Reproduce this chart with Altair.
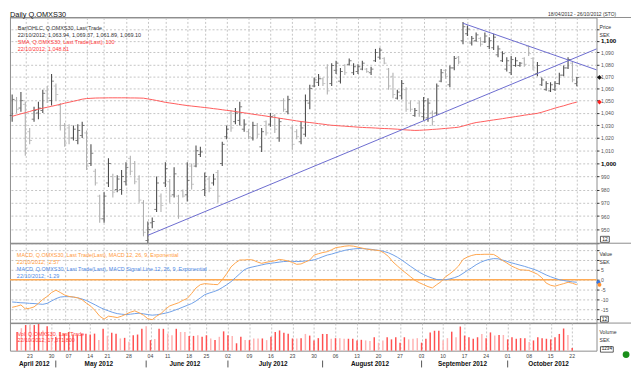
import altair as alt
import pandas as pd

# ---------------- data ----------------
HOLIDAYS = ["2012-05-01", "2012-05-17", "2012-06-06", "2012-06-22"]
RANGE_START, RANGE_END = "2012-04-18", "2012-10-26"

OPEN = [1038, 1050, 1044, 1047, 1025, 1035, 1040, 1042, 1058, 1050, 1062, 1046, 1030, 1028, 1020, 1018, 1022, 1024, 1000, 994, 975, 958, 985, 990, 980, 980, 986, 1004, 1000, 988, 970, 942, 955,
        965, 975, 985, 986, 976, 975, 979, 976, 998, 998, 1007, 980, 988, 985, 993, 1000, 1021, 1040, 1033, 1034, 1027, 1025, 1020, 1030, 1013, 1033, 1031, 1038, 1020, 1050, 1041, 1028, 1025,
        1017, 1023, 1048, 1062, 1065, 1068, 1077, 1064, 1075, 1066, 1079, 1080, 1073, 1074, 1076, 1076, 1073, 1083, 1086, 1085, 1076, 1070, 1052, 1054, 1059, 1048, 1038, 1048, 1037, 1036, 1040, 1040, 1066,
        1075, 1063, 1077, 1086, 1100, 1106, 1098, 1100, 1102, 1099, 1095, 1094, 1088, 1083, 1076, 1073, 1079, 1079, 1085, 1095, 1085, 1072, 1063, 1059, 1058, 1059, 1064, 1071, 1077, 1081, 1063.94]
HIGH = [1055, 1053, 1057, 1049, 1028, 1045, 1049, 1059, 1062, 1072, 1064, 1048, 1032, 1031, 1030, 1031, 1033, 1026, 1015, 996, 976, 978, 1004, 992, 991, 995, 1001, 1006, 1002, 991, 972, 956, 959,
        990, 977, 1001, 988, 997, 976, 980, 1001, 1000, 1014, 1013, 993, 990, 992, 995, 1017, 1030, 1042, 1044, 1049, 1035, 1027, 1033, 1032, 1028, 1034, 1040, 1039, 1036, 1052, 1054, 1030, 1027,
        1033, 1055, 1063, 1069, 1072, 1069, 1080, 1081, 1083, 1077, 1080, 1085, 1081, 1080, 1083, 1077, 1078, 1093, 1094, 1086, 1077, 1073, 1059, 1067, 1061, 1050, 1044, 1050, 1053, 1052, 1042, 1064, 1076,
        1076, 1079, 1087, 1087, 1116, 1113, 1104, 1107, 1103, 1107, 1103, 1106, 1096, 1091, 1086, 1087, 1086, 1082, 1086, 1096, 1086, 1082, 1069, 1066, 1065, 1066, 1073, 1079, 1086, 1082, 1069.37]
LOW = [1033, 1040, 1041, 1006, 1015, 1033, 1035, 1040, 1048, 1046, 1050, 1026, 1013, 1015, 1018, 1015, 1020, 995, 998, 983, 955, 955, 982, 974, 978, 976, 983, 991, 984, 970, 945, 940, 951,
       963, 963, 982, 970, 974, 958, 974, 971, 980, 997, 1005, 975, 978, 983, 970, 998, 1019, 1025, 1031, 1030, 1025, 1019, 1018, 1020, 1009, 1022, 1029, 1024, 1017, 1041, 1039, 1011, 1019,
       1015, 1021, 1043, 1061, 1062, 1062, 1055, 1062, 1072, 1064, 1071, 1079, 1071, 1072, 1075, 1073, 1071, 1082, 1084, 1080, 1059, 1052, 1051, 1051, 1041, 1041, 1037, 1037, 1034, 1033, 1030, 1038, 1065,
       1068, 1061, 1075, 1080, 1097, 1104, 1096, 1099, 1095, 1098, 1093, 1092, 1086, 1082, 1074, 1071, 1078, 1078, 1078, 1087, 1075, 1070, 1062, 1058, 1057, 1058, 1063, 1070, 1076, 1065, 1061.89]
CLOSE = [1051, 1043, 1050, 1012, 1018, 1042, 1044, 1056, 1052, 1066, 1055, 1030, 1016, 1020, 1027, 1026, 1030, 998, 1008, 985, 958, 975, 1000, 978, 988, 990, 997, 994, 986, 972, 948, 950, 956,
         985, 968, 996, 975, 992, 960, 975, 987, 984, 1010, 1009, 990, 981, 988, 975, 1015, 1027, 1028, 1040, 1045, 1031, 1021, 1030, 1023, 1025, 1024, 1037, 1027, 1033, 1043, 1051, 1015, 1021,
         1028, 1050, 1060, 1067, 1068, 1064, 1058, 1079, 1081, 1074, 1073, 1083, 1078, 1078, 1081, 1074, 1076, 1090, 1092, 1081, 1062, 1055, 1057, 1064, 1043, 1043, 1042, 1040, 1050, 1048, 1033, 1062, 1073,
         1070, 1077, 1085, 1082, 1112, 1110, 1102, 1105, 1097, 1104, 1100, 1103, 1093, 1089, 1083, 1084, 1083, 1081, 1080, 1089, 1077, 1079, 1067, 1064, 1063, 1064, 1071, 1077, 1084, 1067, 1069.10]
SMA100 = [1037.3, 1038.3, 1039.3, 1040.2, 1041.2, 1042.3, 1043.1, 1043.9, 1044.6, 1045.4,
          1046.2, 1047.0, 1047.9, 1048.7, 1049.5, 1050.3, 1051.2, 1051.7, 1051.9, 1052.1,
          1052.2, 1052.2, 1052.3, 1052.3, 1052.3, 1052.3, 1052.3, 1052.2, 1052.2, 1052.1,
          1052.0, 1051.4, 1050.8, 1050.1, 1049.4, 1048.6, 1048.1, 1047.6, 1047.0, 1046.5,
          1046.0, 1045.6, 1045.2, 1044.8, 1044.4, 1044.0, 1043.5, 1043.1, 1042.6, 1042.1,
          1041.7, 1041.2, 1040.6, 1040.1, 1039.6, 1039.0, 1038.5, 1038.0, 1037.5, 1036.9,
          1036.4, 1035.8, 1035.3, 1034.7, 1034.2, 1033.6, 1033.1, 1032.7, 1032.3, 1031.9,
          1031.4, 1031.0, 1030.5, 1030.1, 1029.9, 1029.6, 1029.4, 1029.1, 1028.9, 1028.6,
          1028.4, 1028.2, 1028.1, 1027.9, 1027.7, 1027.5, 1027.4, 1027.2, 1027.0, 1026.7,
          1026.4, 1026.2, 1026.0, 1026.1, 1026.3, 1026.5, 1026.8, 1027.0, 1027.3, 1027.6,
          1027.9, 1028.2, 1028.6, 1029.5, 1030.5, 1031.5, 1032.3, 1032.8, 1033.3, 1033.9,
          1034.4, 1034.9, 1035.4, 1036.0, 1036.5, 1037.1, 1037.6, 1038.2, 1038.7, 1039.2,
          1039.7, 1040.6, 1041.7, 1042.8, 1043.9, 1044.9, 1045.8, 1046.9, 1047.9, 1048.81]
MACD = [-14.0, -13.5, -12.8, -14.8, -14.5, -13.8, -12.0, -10.0, -8.5, -6.5,
        -5.3, -6.5, -7.8, -8.5, -8.8, -9.2, -10.2, -12.0, -13.5, -15.8,
        -18.5, -20.0, -18.5, -18.8, -19.2, -18.5, -17.5, -16.5, -15.8, -16.8,
        -18.0, -19.8, -20.3, -18.5, -17.2, -15.0, -13.3, -12.5, -11.7, -10.5,
        -9.5, -7.0, -4.2, -2.5, -2.0, -2.2, -2.4, -2.5, 0.0, 3.0,
        6.5, 8.5, 10.0, 10.0, 10.2, 10.0, 9.0, 8.3, 8.8, 9.2,
        9.6, 10.3, 10.0, 9.5, 8.8, 7.8, 8.0, 9.0, 10.0, 12.5,
        13.2, 13.8, 14.2, 15.2, 16.3, 16.6, 17.0, 17.2, 17.0, 16.5,
        16.0, 15.5, 15.2, 15.0, 14.7, 13.5, 11.7, 9.0, 7.0, 5.0,
        3.3, 1.5, -0.3, -1.5, -2.5, -3.5, -4.2, -2.5, -1.0, 1.5,
        3.0, 4.8, 7.0, 10.3, 11.5, 12.3, 12.8, 12.8, 12.9, 12.9,
        12.8, 11.5, 9.8, 8.5, 7.0, 6.0, 5.0, 4.9, 4.7, 3.8,
        2.8, 1.0, -1.7, -2.8, -3.3, -2.6, -2.0, -1.3, -1.8, -2.57]
SIGNAL = [-11.3, -11.5, -11.7, -11.8, -12.0, -12.1, -12.3, -12.5, -12.0, -10.8,
          -9.6, -8.8, -8.6, -8.6, -8.8, -9.2, -9.8, -10.6, -11.7, -12.8,
          -14.0, -15.0, -15.8, -16.6, -17.2, -17.5, -17.7, -17.5, -17.2, -17.0,
          -17.3, -17.7, -18.0, -17.8, -17.4, -17.0, -16.4, -15.6, -14.8, -13.9,
          -13.0, -12.1, -10.8, -9.2, -7.6, -6.8, -6.1, -5.3, -4.0, -2.6,
          -1.0, 1.0, 3.0, 5.0, 6.0, 6.5, 7.0, 7.5, 8.0, 8.3,
          8.6, 8.9, 9.2, 9.3, 9.3, 9.2, 9.3, 9.5, 9.7, 10.1,
          10.8, 11.7, 12.5, 13.0, 13.7, 14.3, 14.9, 15.3, 15.6, 15.8,
          15.8, 15.6, 15.4, 15.1, 14.8, 14.3, 13.6, 12.6, 11.4, 10.0,
          8.4, 6.8, 5.3, 3.8, 2.6, 1.6, 0.8, 0.1, 0.0, 0.0,
          0.4, 1.0, 1.8, 3.2, 4.7, 6.1, 7.6, 8.8, 9.7, 10.3,
          10.7, 10.6, 10.0, 9.3, 8.6, 8.0, 7.4, 6.8, 6.1, 5.4,
          4.6, 3.5, 2.4, 1.5, 0.7, 0.0, -0.4, -0.8, -1.1, -1.29]
VOLUME_M = [124, 149, 170, 170, 170, 177, 134, 162, 119, 90, 124, 113, 124, 107, 102, 113, 113, 107, 113, 70, 145, 98, 119, 113, 81, 85, 60, 102, 107, 145, 162, 70, 77,
            145, 145, 113, 102, 145, 124, 124, 98, 98, 102, 92, 102, 81, 70, 92, 128, 102, 98, 49, 92, 70, 70, 81, 81, 81, 70, 92, 124, 134, 119, 113, 81, 81,
            83, 111, 100, 68, 83, 111, 111, 79, 83, 83, 79, 79, 79, 68, 72, 68, 64, 89, 53, 68, 89, 75, 89, 53, 89, 75, 79, 83, 53, 79, 121, 132, 132,
            68, 83, 126, 89, 160, 100, 89, 79, 89, 111, 83, 121, 100, 104, 104, 75, 89, 79, 83, 83, 58, 68, 89, 83, 79, 75, 89, 111, 147, 104, 17.4]
VOLUME_UP = [1, 0, 1, 0, 1, 1, 0, 1, 0, 1, 1, 1, 1, 1, 1, 1, 1, 1, 1, 0, 1, 0, 1, 1, 0, 1, 0, 1, 1, 1, 0, 1, 0,
             1, 1, 0, 0, 1, 0, 0, 1, 1, 0, 1, 1, 0, 1, 0, 1, 1, 0, 1, 1, 0, 1, 0, 0, 1, 0, 1, 1, 1, 1, 1, 1, 0,
             1, 0, 1, 1, 1, 1, 1, 0, 1, 0, 0, 1, 1, 1, 1, 0, 0, 1, 0, 0, 1, 1, 1, 1, 1, 0, 0, 0, 1, 1, 1, 1, 1,
             0, 0, 1, 0, 1, 1, 1, 1, 1, 0, 1, 1, 0, 1, 0, 1, 1, 1, 1, 1, 0, 1, 1, 1, 1, 1, 1, 1, 1, 0, 1]
# trend lines drawn on the chart: (trading-day position, price)
TREND_UP_X, TREND_UP_V = [31.5, 134.0], [945.8, 1093.0]
TREND_DN_X, TREND_DN_V = [103.5, 134.0], [1115.0, 1075.4]

PRICE_TICKS = [940, 950, 960, 970, 980, 990, 1000, 1010, 1020, 1030, 1040, 1050, 1060,
               1070, 1080, 1090, 1100, 1110]
MACD_TICKS = [-20, -15, -10, -5, 0, 5, 10, 15]

# ---------------- styling ----------------
FONT = "Liberation Sans"
W = 595
H_PRICE, H_MACD, H_VOL = 229, 81, 28
GRID = "#c4c4c4"
FRAME = "#8c8c8c"
DARK, LIGHT = "#4d4d4d", "#b0b0b0"
SMA_C = "#ff5a5a"
TREND_C = "#6b6bcf"
MACD_C = "#ffa64d"
SIG_C = "#6f9fe8"
ZERO_C = "#ffab55"
VOL_UP_C, VOL_DN_C = "#ff5050", "#ffb3b3"

# ---------------- frames ----------------
days = [d for d in pd.bdate_range(RANGE_START, RANGE_END) if d.strftime("%Y-%m-%d") not in HOLIDAYS]
n = len(OPEN)
df = pd.DataFrame({
    "xi": [i + 0.5 for i in range(n)],
    "open": OPEN, "high": HIGH, "low": LOW, "close": CLOSE,
    "sma": SMA100, "macd": MACD, "signal": SIGNAL, "vol": VOLUME_M,
})
df["barcol"] = [DARK if c >= o else LIGHT for o, c in zip(OPEN, CLOSE)]
df["volcol"] = [VOL_UP_C if u else VOL_DN_C for u in VOLUME_UP]

mondays = pd.DataFrame({
    "xi": [i + 0.5 for i, d in enumerate(days) if d.weekday() == 0],
    "lab": [d.strftime("%d") for d in days if d.weekday() == 0],
})
months = {}
for i, d in enumerate(days):
    key = d.strftime("%B %Y")
    months.setdefault(key, [i, i])
    months[key][1] = i
month_df = pd.DataFrame({
    "xi": [(a + b + 1) / 2 for a, b in months.values()],
    "lab": list(months.keys()),
})
sep_df = pd.DataFrame({"xi": [a + 0.5 for a, b in list(months.values())[1:]]})
trend_df = pd.DataFrame({
    "xi": TREND_UP_X + TREND_DN_X,
    "v": TREND_UP_V + TREND_DN_V,
    "line": ["up", "up", "down", "down"],
})

XS = alt.Scale(domain=[0, len(days)], nice=False, zero=False)
XAX = alt.Axis(values=list(mondays["xi"]), labels=False, ticks=False, domain=False,
               grid=True, gridDash=[2, 2], gridColor=GRID, gridWidth=1, title=None)
X = alt.X("xi:Q", scale=XS, axis=XAX)


def txt(s, x, y, size=5.5, color="#333333", weight="normal", align="left", baseline="middle"):
    return alt.Chart(pd.DataFrame({"t": [s]})).mark_text(
        align=align, baseline=baseline, fontSize=size, color=color,
        fontWeight=weight, font=FONT
    ).encode(text="t:N", x=alt.value(x), y=alt.value(y))


def box(x1, x2, y1, y2):
    return alt.Chart(pd.DataFrame({"a": [0]})).mark_rect(
        fillOpacity=0, stroke="#333333", strokeWidth=0.8
    ).encode(x=alt.value(x1), x2=alt.value(x2), y=alt.value(y1), y2=alt.value(y2))


def hline(y, x2=630):
    return alt.Chart(pd.DataFrame({"a": [0]})).mark_rule(color=FRAME, strokeWidth=1).encode(
        x=alt.value(0.01), x2=alt.value(x2), y=alt.value(y))


# ---------------- price panel ----------------
YS = alt.Scale(type="log", domain=[940, 1120], nice=False, zero=False)
YAX = alt.Axis(
    orient="right", values=PRICE_TICKS, title=None, domain=False,
    labelExpr="datum.value < 945 || datum.value > 1105 ? '' : format(datum.value, ',')",
    grid=True, gridDash=[2, 2], gridColor=GRID, tickSize=2.5, tickColor="#333333",
    labelPadding=1.5, labelFont=FONT,
    labelFontSize={"condition": {"test": "datum.value % 100 === 0", "value": 6.2}, "value": 5.2},
    labelFontWeight={"condition": {"test": "datum.value % 100 === 0", "value": "bold"}, "value": "normal"},
    labelColor={"condition": {"test": "datum.value % 100 === 0", "value": "#000000"}, "value": "#555555"},
)
base = alt.Chart(df)
bars = base.mark_rule(strokeWidth=1.1).encode(
    x=X, y=alt.Y("low:Q", scale=YS, axis=YAX), y2="high:Q",
    color=alt.Color("barcol:N", scale=None, legend=None))
opens = base.mark_tick(orient="horizontal", size=2, thickness=1, xOffset=-1.4).encode(
    x=X, y=alt.Y("open:Q", scale=YS, axis=YAX), color=alt.Color("barcol:N", scale=None, legend=None))
closes = base.mark_tick(orient="horizontal", size=2, thickness=1, xOffset=1.4).encode(
    x=X, y=alt.Y("close:Q", scale=YS, axis=YAX), color=alt.Color("barcol:N", scale=None, legend=None))
sma = base.mark_line(color=SMA_C, strokeWidth=1).encode(x=X, y=alt.Y("sma:Q", scale=YS, axis=YAX))
trend = alt.Chart(trend_df).mark_line(color=TREND_C, strokeWidth=1).encode(
    x=X, y=alt.Y("v:Q", scale=YS, axis=YAX), detail="line:N")
last_close = alt.Chart(pd.DataFrame({"v": [CLOSE[-1]]})).mark_point(
    shape="diamond", filled=True, size=22, color="#111111", opacity=1).encode(
    x=alt.value(598), y=alt.Y("v:Q", scale=YS, axis=YAX))
last_sma = alt.Chart(pd.DataFrame({"v": [SMA100[-1]]})).mark_point(
    shape="diamond", filled=True, size=22, color="#ff2020", opacity=1).encode(
    x=alt.value(598), y=alt.Y("v:Q", scale=YS, axis=YAX))

price = alt.layer(
    bars, sma, trend, opens, closes, last_close, last_sma,
    hline(0.01), hline(H_PRICE),
    txt("18/04/2012 - 26/10/2012 (STO)", 615, -2, size=5, color="#333333", align="right", baseline="alphabetic"),
    txt("Bar/OHLC, Q.OMXS30, Last Trade", 8, 11),
    txt("22/10/2012; 1,063.94, 1,069.37, 1,061.89, 1,069.10", 8, 18.3),
    txt("SMA, Q.OMXS30, Last Trade(Last), 100", 8, 25.3, color="#ff3a3a"),
    txt("22/10/2012; 1,048.81", 8, 32, color="#ff3a3a"),
    txt("Price", 598, 10, size=5.2), txt("SEK", 598, 18, size=5.2),
    box(599, 608, 222, 228), txt("12", 603.5, 225, size=5, color="#111111", align="center"),
).properties(width=W, height=H_PRICE)

# ---------------- MACD panel ----------------
MS = alt.Scale(domain=[-22, 18.5], nice=False, zero=False)
MAX = alt.Axis(
    orient="right", values=MACD_TICKS, title=None, domain=False,
    labelExpr="datum.value >= 10 || datum.value <= -20 ? '' : '' + datum.value",
    grid=True, gridDash=[2, 2], gridColor=GRID, tickSize=2.5, tickColor="#333333",
    labelPadding=1.5, labelFont=FONT, labelFontSize=5.2, labelColor="#555555",
)
zero = alt.Chart(pd.DataFrame({"z": [0]})).mark_rule(color=ZERO_C, strokeWidth=1.4).encode(
    y=alt.Y("z:Q", scale=MS, axis=MAX), x=alt.value(0.01), x2=alt.value(W))
sig_line = base.mark_line(color=SIG_C, strokeWidth=1).encode(x=X, y=alt.Y("signal:Q", scale=MS, axis=MAX))
macd_line = base.mark_line(color=MACD_C, strokeWidth=1).encode(x=X, y=alt.Y("macd:Q", scale=MS, axis=MAX))
last_sig = alt.Chart(pd.DataFrame({"v": [SIGNAL[-1]]})).mark_point(
    filled=True, size=16, color="#3a78e0", opacity=1).encode(x=alt.value(597), y=alt.Y("v:Q", scale=MS, axis=MAX))
last_macd = alt.Chart(pd.DataFrame({"v": [MACD[-1]]})).mark_point(
    filled=True, size=16, color="#ff9030", opacity=1).encode(x=alt.value(598), y=alt.Y("v:Q", scale=MS, axis=MAX))

macd = alt.layer(
    zero, sig_line, macd_line, last_sig, last_macd, hline(H_MACD),
    txt("MACD, Q.OMXS30, Last Trade(Last), MACD 12, 26, 9, Exponential", 7, 12, color="#ff9a3c"),
    txt("22/10/2012; -2.57", 7, 19.3, color="#ff9a3c"),
    txt("MACD, Q.OMXS30, Last Trade(Last), MACD Signal Line 12, 26, 9, Exponential", 7, 26.3, color="#4f8ae6"),
    txt("22/10/2012; -1.29", 7, 33.7, color="#4f8ae6"),
    txt("Value", 598, 11, size=5.2), txt("SEK", 598, 19.5, size=5.2),
    box(599, 607, 74, 80), txt("12", 603, 77, size=5, color="#111111", align="center"),
).properties(width=W, height=H_MACD)

# ---------------- volume panel ----------------
VS = alt.Scale(domain=[0, 183], nice=False)
vbars = base.mark_bar(size=1.5).encode(
    x=X, y=alt.Y("vol:Q", scale=VS, axis=None),
    color=alt.Color("volcol:N", scale=None, legend=None))
day_labels = alt.Chart(mondays).mark_text(fontSize=5.2, color="#444444", font=FONT, baseline="middle").encode(
    x=X, y=alt.value(33), text="lab:N")
month_labels = alt.Chart(month_df).mark_text(fontSize=6.5, fontWeight="bold", color="#111111", font=FONT,
                                             baseline="middle").encode(x=X, y=alt.value(42), text="lab:N")
seps = alt.Chart(sep_df).mark_rule(color="#555555", strokeWidth=1).encode(
    x=X, y=alt.value(38), y2=alt.value(45))
green = alt.Chart(pd.DataFrame({"a": [0]})).mark_point(filled=True, size=48, color="#1a8f1a", opacity=1).encode(
    x=alt.value(625), y=alt.value(32))

vol = alt.layer(
    vbars, day_labels, month_labels, seps, green,
    txt("Vol, Q.OMXS30, Last Trade", 7.7, 11, color="#ff3a3a"),
    txt("22/10/2012; 17,371,800", 7.7, 17.7, color="#ff3a3a"),
    txt("Volume", 598, 9.3, size=5.2), txt("SEK", 598, 16.7, size=5.2),
    box(599, 612, 24, 29.5), txt("1234", 605.5, 26.8, size=4.6, color="#111111", align="center"),
).properties(width=W, height=H_VOL)

chart = alt.vconcat(price, macd, vol, spacing=0, bounds="flush").properties(
    padding=0, background="white",
    title=alt.TitleParams("Daily Q.OMXS30", anchor="start", frame="group", fontSize=7.5,
                          fontWeight="normal", font=FONT, color="#111111", offset=-7.5),
).configure_view(stroke=FRAME, strokeWidth=1)

chart.save("out.html", embed_options={"renderer": "svg", "actions": False})
